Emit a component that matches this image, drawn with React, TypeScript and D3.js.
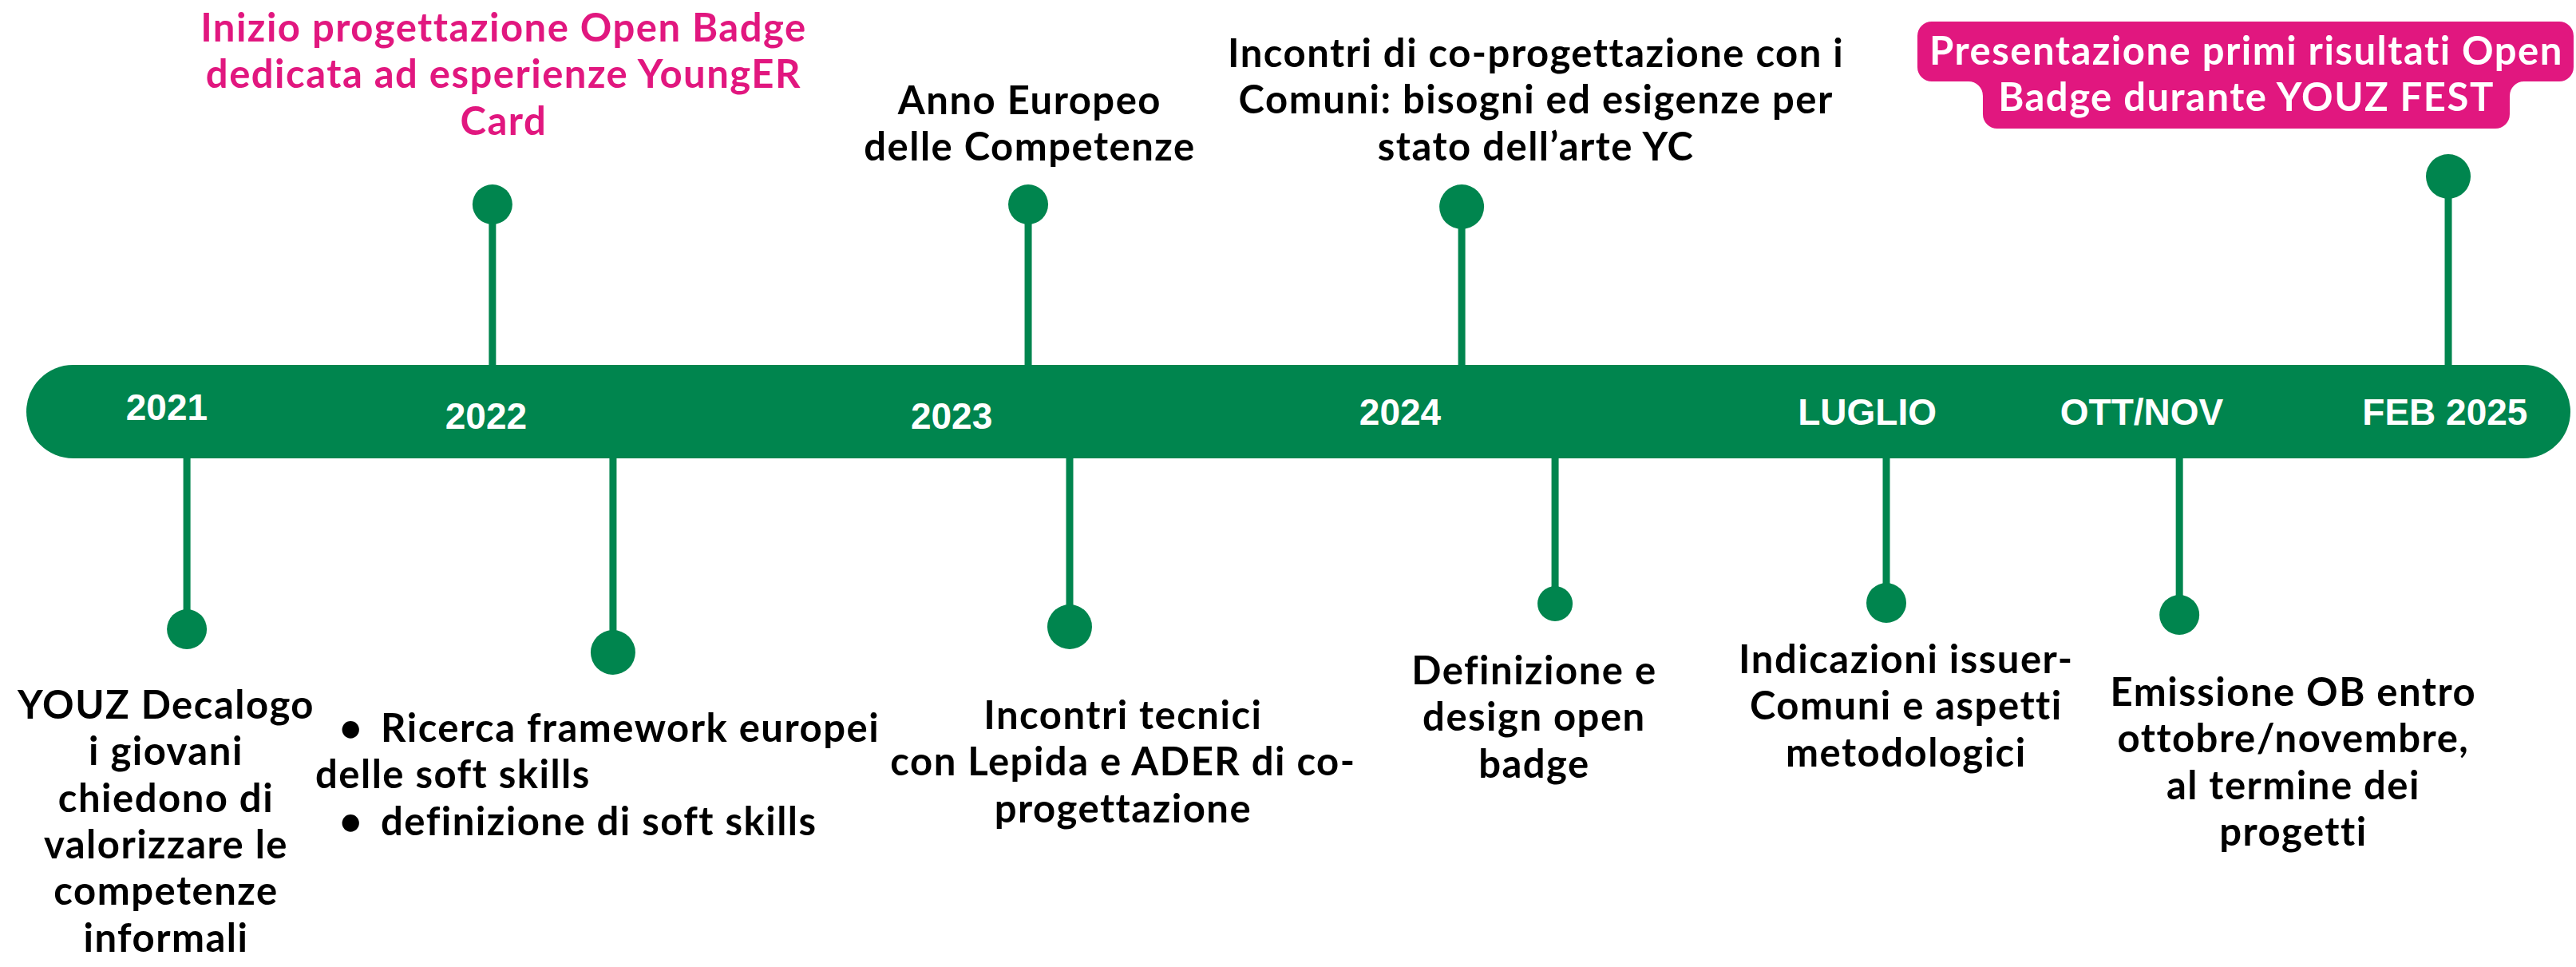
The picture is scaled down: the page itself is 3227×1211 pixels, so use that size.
import React from "react";
import * as d3 from "d3";

// ---- data ----
const periodLabels = ["2021", "2022", "2023", "2024", "LUGLIO", "OTT/NOV", "FEB 2025"];
const periodPos = [5.52, 18.07, 36.37, 54.0, 72.36, 83.15, 95.07]; // position along the timeline (0-100)

const eventIds = ["A", "B", "C", "D", "E", "F", "G", "H", "I", "J"];
const eventSide = ["above", "above", "above", "above", "below", "below", "below", "below", "below", "below"];
const eventPos = [18.32, 39.38, 56.42, 95.2, 6.31, 23.06, 41.01, 60.09, 73.11, 84.63];
const eventTextPos = [18.76, 39.44, 59.34, 87.26, 5.49, 11.36, 43.11, 59.27, 73.89, 89.11];
const eventLines: string[][] = [
  ["Inizio progettazione Open Badge", "dedicata ad esperienze YoungER", "Card"],
  ["Anno Europeo", "delle Competenze"],
  ["Incontri di co-progettazione con i", "Comuni: bisogni ed esigenze per", "stato dell’arte YC"],
  ["Presentazione primi risultati Open", "Badge durante YOUZ FEST"],
  ["YOUZ Decalogo", "i giovani", "chiedono di", "valorizzare le", "competenze", "informali"],
  ["Ricerca framework europei", "delle soft skills", "definizione di soft skills"],
  ["Incontri tecnici", "con Lepida e ADER di co-", "progettazione"],
  ["Definizione e", "design open", "badge"],
  ["Indicazioni issuer-", "Comuni e aspetti", "metodologici"],
  ["Emissione OB entro", "ottobre/novembre,", "al termine dei", "progetti"],
];
const eventStyle = ["pinkText", "plain", "plain", "pinkBox", "plain", "bullets", "plain", "plain", "plain", "plain"];
const bulletFlags = [true, false, true]; // for the bullet list event

// ---- layout / style ----
const W = 3227;
const H = 1211;
const GREEN = "#00854e";
const PINK = "#e1177f";
const BAR_TOP = 457;
const BAR_H = 117;
const FONT = "Lato, 'Open Sans', 'Liberation Sans', sans-serif";
const LABEL_FONT = "'Liberation Sans', Arial, sans-serif";
const FS = 49;
const LS = 1.5;
const LINE_H = 58.3;
const dotY = [256, 256, 259, 221, 788, 817, 785, 756, 755, 770];
const dotR = [25, 25, 28, 28, 25, 28, 28, 22, 25, 25];
const firstBaseline = [52, 143, 84, 81, 900, 929, 913, 857, 843, 884];
const labelBaseline = [526, 537, 537, 532, 532, 532, 532];

function boxPath(cx: number) {
  const t = { x0: cx - 412, x1: cx + 410, y0: 27, y1: 102 };
  const b = { x0: cx - 330, x1: cx + 330, y1: 161 };
  const r = 18;
  return [
    `M${t.x0 + r},${t.y0}`,
    `H${t.x1 - r}`,
    `A${r},${r} 0 0 1 ${t.x1},${t.y0 + r}`,
    `V${t.y1 - r}`,
    `A${r},${r} 0 0 1 ${t.x1 - r},${t.y1}`,
    `H${b.x1 + r}`,
    `A${r},${r} 0 0 0 ${b.x1},${t.y1 + r}`,
    `V${b.y1 - r}`,
    `A${r},${r} 0 0 1 ${b.x1 - r},${b.y1}`,
    `H${b.x0 + r}`,
    `A${r},${r} 0 0 1 ${b.x0},${b.y1 - r}`,
    `V${t.y1 + r}`,
    `A${r},${r} 0 0 0 ${b.x0 - r},${t.y1}`,
    `H${t.x0 + r}`,
    `A${r},${r} 0 0 1 ${t.x0},${t.y1 - r}`,
    `V${t.y0 + r}`,
    `A${r},${r} 0 0 1 ${t.x0 + r},${t.y0}`,
    "Z",
  ].join(" ");
}

export default function App() {
  const x = d3.scaleLinear().domain([0, 100]).range([33, 3220]);
  const barX0 = x(0);
  const barX1 = x(100);

  return (
    <div style={{ position: "absolute", left: 0, top: 0, width: W, height: H, background: "#fff" }}>
      <svg width={W} height={H} viewBox={`0 0 ${W} ${H}`} style={{ display: "block" }}>
        <rect x={0} y={0} width={W} height={H} fill="#fff" />

        {/* stems and dots */}
        {eventIds.map((id, i) => {
          const sx = x(eventPos[i]);
          const above = eventSide[i] === "above";
          const y1 = above ? BAR_TOP + 2 : BAR_TOP + BAR_H - 2;
          return (
            <g key={`stem-${id}`}>
              <line x1={sx} x2={sx} y1={y1} y2={dotY[i]} stroke={GREEN} strokeWidth={9} />
              <circle cx={sx} cy={dotY[i]} r={dotR[i]} fill={GREEN} />
            </g>
          );
        })}

        {/* timeline bar */}
        <rect
          x={barX0}
          y={BAR_TOP}
          width={barX1 - barX0}
          height={BAR_H}
          rx={BAR_H / 2}
          ry={BAR_H / 2}
          fill={GREEN}
        />

        {/* period labels */}
        {periodLabels.map((lab, i) => (
          <text
            key={lab}
            x={x(periodPos[i])}
            y={labelBaseline[i]}
            textAnchor="middle"
            fontFamily={LABEL_FONT}
            fontWeight={700}
            fontSize={46}
            fill="#fff"
          >
            {lab}
          </text>
        ))}

        {/* event texts */}
        {eventIds.map((id, i) => {
          const tx = x(eventTextPos[i]);
          const style = eventStyle[i];
          const lines = eventLines[i];
          if (style === "bullets") {
            return (
              <g key={`txt-${id}`} fontFamily={FONT} fontWeight={700} fontSize={FS} letterSpacing={LS} fill="#000">
                {lines.map((ln, k) => {
                  const yy = firstBaseline[i] + k * LINE_H;
                  return bulletFlags[k] ? (
                    <g key={k}>
                      <text x={tx + 45} y={yy} textAnchor="middle">•</text>
                      <text x={tx + 82} y={yy}>{ln}</text>
                    </g>
                  ) : (
                    <text key={k} x={tx} y={yy}>{ln}</text>
                  );
                })}
              </g>
            );
          }
          const fill = style === "pinkText" ? PINK : style === "pinkBox" ? "#fff" : "#000";
          return (
            <g key={`txt-${id}`}>
              {style === "pinkBox" && <path d={boxPath(tx)} fill={PINK} />}
              <text
                fontFamily={FONT}
                fontWeight={700}
                fontSize={FS}
                letterSpacing={LS}
                fill={fill}
                textAnchor="middle"
              >
                {lines.map((ln, k) => (
                  <tspan key={k} x={tx} y={firstBaseline[i] + k * LINE_H}>
                    {ln}
                  </tspan>
                ))}
              </text>
            </g>
          );
        })}
      </svg>
    </div>
  );
}
